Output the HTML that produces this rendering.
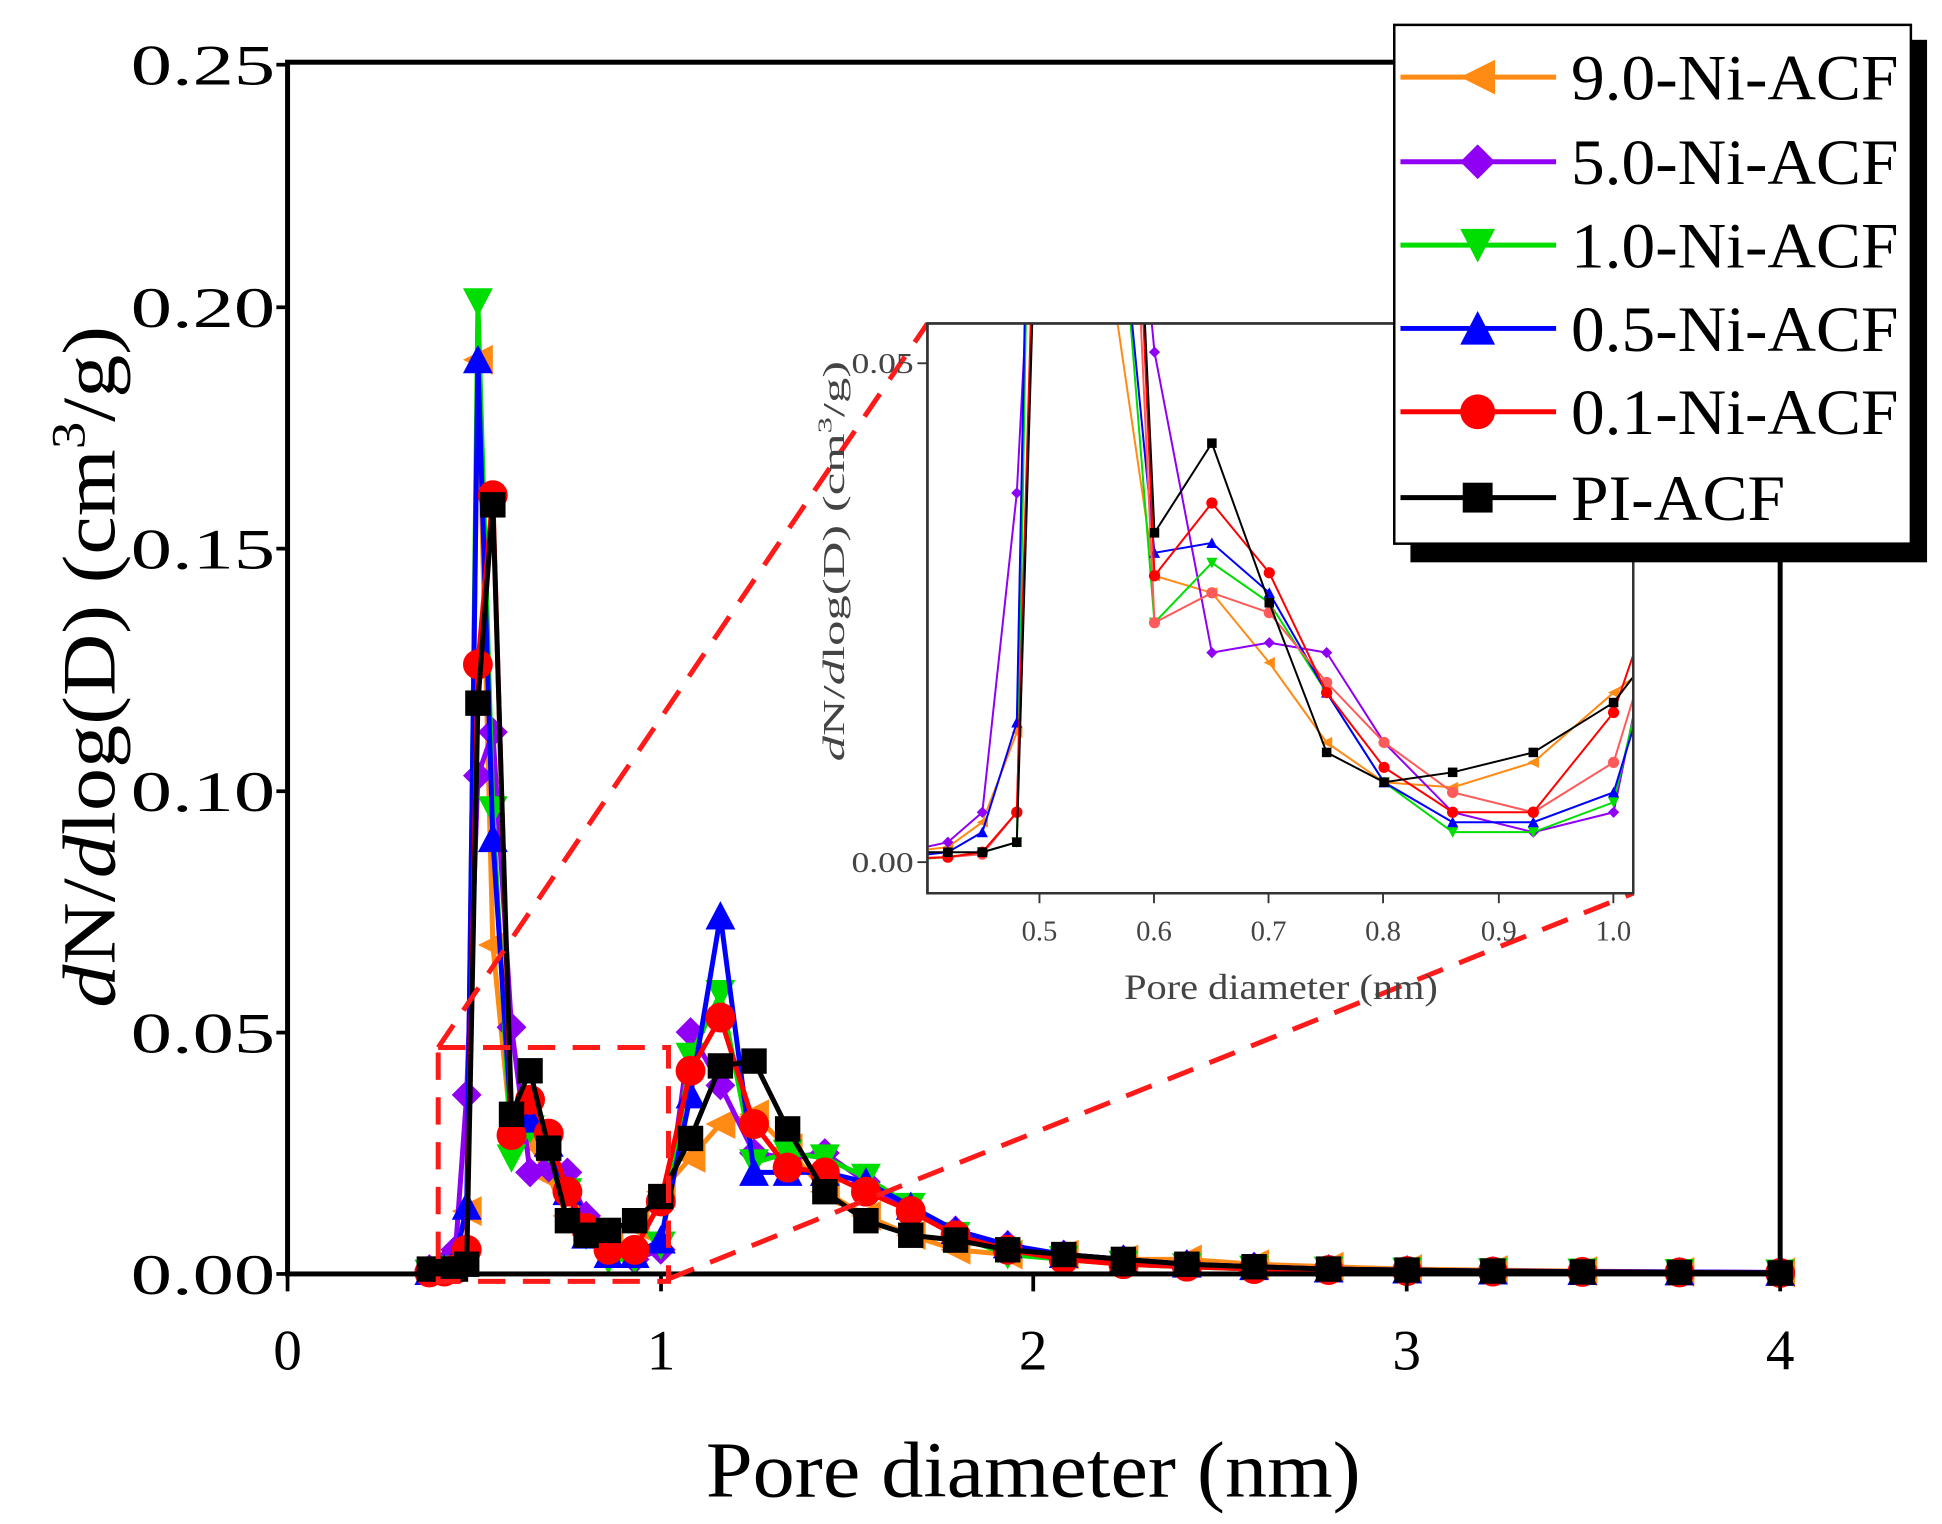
<!DOCTYPE html>
<html><head><meta charset="utf-8"><style>html,body{margin:0;padding:0;background:#fff}svg{display:block}</style></head>
<body>
<svg xmlns="http://www.w3.org/2000/svg" width="1942" height="1524" viewBox="0 0 1560 1225" preserveAspectRatio="none" font-family="'Liberation Serif', serif">
<rect width="1560" height="1225" fill="#fff"/>
<defs>
<clipPath id="ic"><rect x="745" y="260" width="567" height="458"/></clipPath>
<marker id="mO" viewBox="-1 -1 2 2" refX="0" refY="0" markerUnits="userSpaceOnUse" markerWidth="24" markerHeight="24" overflow="visible"><polygon points="-1,0 1,-1 1,1" fill="#ff8a14"/></marker>
<marker id="mP" viewBox="-1 -1 2 2" refX="0" refY="0" markerUnits="userSpaceOnUse" markerWidth="24" markerHeight="24" overflow="visible"><polygon points="0,-1 1,0 0,1 -1,0" fill="#8f00f5"/></marker>
<marker id="mG" viewBox="-1 -1 2 2" refX="0" refY="0" markerUnits="userSpaceOnUse" markerWidth="24" markerHeight="24" overflow="visible"><polygon points="-1,-0.9 1,-0.9 0,1" fill="#00dd00"/></marker>
<marker id="mB" viewBox="-1 -1 2 2" refX="0" refY="0" markerUnits="userSpaceOnUse" markerWidth="24" markerHeight="24" overflow="visible"><polygon points="0,-1 1,0.9 -1,0.9" fill="#0000ff"/></marker>
<marker id="mR" viewBox="-1 -1 2 2" refX="0" refY="0" markerUnits="userSpaceOnUse" markerWidth="24" markerHeight="24" overflow="visible"><circle r="1" fill="#ff0000"/></marker>
<marker id="mK" viewBox="-1 -1 2 2" refX="0" refY="0" markerUnits="userSpaceOnUse" markerWidth="24" markerHeight="24" overflow="visible"><rect x="-0.85" y="-0.85" width="1.7" height="1.7" fill="#000"/></marker>
<marker id="iO" viewBox="-1 -1 2 2" refX="0" refY="0" markerUnits="userSpaceOnUse" markerWidth="9" markerHeight="9" overflow="visible"><polygon points="-1,0 1,-1 1,1" fill="#ff8a14"/></marker>
<marker id="iP" viewBox="-1 -1 2 2" refX="0" refY="0" markerUnits="userSpaceOnUse" markerWidth="9" markerHeight="9" overflow="visible"><polygon points="0,-1 1,0 0,1 -1,0" fill="#8f00f5"/></marker>
<marker id="iG" viewBox="-1 -1 2 2" refX="0" refY="0" markerUnits="userSpaceOnUse" markerWidth="9" markerHeight="9" overflow="visible"><polygon points="-1,-0.9 1,-0.9 0,1" fill="#00dd00"/></marker>
<marker id="iB" viewBox="-1 -1 2 2" refX="0" refY="0" markerUnits="userSpaceOnUse" markerWidth="9" markerHeight="9" overflow="visible"><polygon points="0,-1 1,0.9 -1,0.9" fill="#0000ff"/></marker>
<marker id="iL" viewBox="-1 -1 2 2" refX="0" refY="0" markerUnits="userSpaceOnUse" markerWidth="9" markerHeight="9" overflow="visible"><circle r="1" fill="#ff5a5a"/></marker>
<marker id="iR" viewBox="-1 -1 2 2" refX="0" refY="0" markerUnits="userSpaceOnUse" markerWidth="9" markerHeight="9" overflow="visible"><circle r="1" fill="#ff0000"/></marker>
<marker id="iK" viewBox="-1 -1 2 2" refX="0" refY="0" markerUnits="userSpaceOnUse" markerWidth="9" markerHeight="9" overflow="visible"><rect x="-0.85" y="-0.85" width="1.7" height="1.7" fill="#000"/></marker>
</defs>

<g fill="none" stroke-width="4" stroke-linejoin="round">
<polyline stroke="#ff8a14" marker-start="url(#mO)" marker-mid="url(#mO)" marker-end="url(#mO)" points="344.9,1020.1 356.9,1018.2 365.9,1008.4 374.9,973.5 383.9,289.2 395.9,759.6 410.9,912.4 425.8,919 440.8,946.2 455.8,977.3 470.8,992.9 488.8,994.8 509.8,985.1 530.8,957.9 554.7,930.7 578.7,903.5 605.7,895.7 632.7,922.9 662.6,957.9 695.6,977.3 731.6,992.9 767.6,1004.6 809.5,1008.4 854.5,1008.4 902.4,1012.3 953.4,1012.3 1007.4,1016.2 1067.3,1018.2 1130.3,1020.1 1199.2,1020.9 1271.1,1021.7 1349.1,1022.4 1430,1022.8"/>
<polyline stroke="#8f00f5" marker-start="url(#mP)" marker-mid="url(#mP)" marker-end="url(#mP)" points="344.9,1020.1 356.9,1016.2 365.9,1004.6 374.9,880.1 383.9,623.5 395.9,588.5 410.9,825.7 425.8,942.4 440.8,938.5 455.8,942.4 470.8,977.3 488.8,1004.6 509.8,1012.3 530.8,1004.6 554.7,829.6 578.7,872.4 605.7,926.8 632.7,930.7 662.6,926.8 695.6,950.1 731.6,973.5 767.6,989 809.5,1000.7 854.5,1008.4 902.4,1012.3 953.4,1016.2 1007.4,1018.2 1067.3,1020.1 1130.3,1020.9 1199.2,1021.7 1271.1,1022.1 1349.1,1022.4 1430,1022.8"/>
<polyline stroke="#00dd00" marker-start="url(#mG)" marker-mid="url(#mG)" marker-end="url(#mG)" points="344.9,1023.2 356.9,1022.1 365.9,1020.1 374.9,1016.2 383.9,242.5 395.9,650.8 410.9,930.7 425.8,907.4 440.8,922.9 455.8,957.9 470.8,992.9 488.8,1012.3 509.8,1012.3 530.8,1000.7 554.7,849 578.7,798.5 605.7,934.6 632.7,926.8 662.6,930.7 695.6,946.2 731.6,969.6 767.6,992.9 809.5,1008.4 854.5,1012.3 902.4,1016.2 953.4,1018.2 1007.4,1020.1 1067.3,1020.9 1130.3,1021.7 1199.2,1022.1 1271.1,1022.4 1349.1,1022.8 1430,1023.2"/>
<polyline stroke="#0000ff" marker-start="url(#mB)" marker-mid="url(#mB)" marker-end="url(#mB)" points="344.9,1022.1 356.9,1020.1 365.9,1012.3 374.9,969.6 383.9,289.2 395.9,674.1 410.9,903.5 425.8,899.6 440.8,919 455.8,957.9 470.8,992.9 488.8,1008.4 509.8,1008.4 530.8,996.8 554.7,880.1 578.7,736.3 605.7,942.4 632.7,942.4 662.6,942.4 695.6,950.1 731.6,969.6 767.6,989 809.5,1000.7 854.5,1008.4 902.4,1012.3 953.4,1016.2 1007.4,1018.2 1067.3,1020.1 1130.3,1020.9 1199.2,1021.7 1271.1,1022.1 1349.1,1022.4 1430,1022.8"/>
<polyline stroke="#ff0000" marker-start="url(#mR)" marker-mid="url(#mR)" marker-end="url(#mR)" points="344.9,1022.8 356.9,1022.1 365.9,1020.1 374.9,1004.6 383.9,534.1 395.9,398 410.9,912.4 425.8,884 440.8,911.2 455.8,957.9 470.8,987.1 488.8,1004.6 509.8,1004.6 530.8,965.7 554.7,860.7 578.7,817.9 605.7,903.5 632.7,938.5 662.6,942.4 695.6,957.9 731.6,973.5 767.6,992.9 809.5,1004.6 854.5,1012.3 902.4,1016.2 953.4,1018.2 1007.4,1020.1 1067.3,1020.9 1130.3,1021.7 1199.2,1022.1 1271.1,1022.4 1349.1,1022.8 1430,1023.2"/>
<polyline stroke="#000" marker-start="url(#mK)" marker-mid="url(#mK)" marker-end="url(#mK)" points="344.9,1020.1 356.9,1020.1 365.9,1020.1 374.9,1016.2 383.9,565.2 395.9,405.8 410.9,895.7 425.8,860.7 440.8,922.9 455.8,981.2 470.8,992.9 488.8,989 509.8,981.2 530.8,961.8 554.7,915.1 578.7,856.8 605.7,852.9 632.7,907.4 662.6,957.9 695.6,981.2 731.6,992.9 767.6,996.8 809.5,1004.6 854.5,1008.4 902.4,1012.3 953.4,1016.2 1007.4,1018.2 1067.3,1020.1 1130.3,1020.9 1199.2,1021.7 1271.1,1022.4 1349.1,1022.8 1430,1023.2"/>
</g>

<rect x="231" y="50" width="1199" height="974" fill="none" stroke="#000" stroke-width="4"/>
<g stroke="#000" stroke-width="3">
<line x1="222" y1="1024" x2="231" y2="1024"/><line x1="222" y1="830" x2="231" y2="830"/><line x1="222" y1="636" x2="231" y2="636"/><line x1="222" y1="441" x2="231" y2="441"/><line x1="222" y1="247" x2="231" y2="247"/><line x1="222" y1="52" x2="231" y2="52"/>
<line x1="231" y1="1024" x2="231" y2="1038"/><line x1="531" y1="1024" x2="531" y2="1038"/><line x1="830" y1="1024" x2="830" y2="1038"/><line x1="1130" y1="1024" x2="1130" y2="1038"/><line x1="1430" y1="1024" x2="1430" y2="1038"/>
</g>
<g font-size="46">
<text x="105" y="1040" textLength="116" lengthAdjust="spacingAndGlyphs">0.00</text>
<text x="105" y="846" textLength="116" lengthAdjust="spacingAndGlyphs">0.05</text>
<text x="105" y="652" textLength="116" lengthAdjust="spacingAndGlyphs">0.10</text>
<text x="105" y="457" textLength="116" lengthAdjust="spacingAndGlyphs">0.15</text>
<text x="105" y="263" textLength="116" lengthAdjust="spacingAndGlyphs">0.20</text>
<text x="105" y="68" textLength="116" lengthAdjust="spacingAndGlyphs">0.25</text>
</g>
<g font-size="46" text-anchor="middle">
<text x="231" y="1101">0</text><text x="531" y="1101">1</text><text x="830" y="1101">2</text><text x="1130" y="1101">3</text><text x="1430" y="1101">4</text>
</g>
<text x="567" y="1203" font-size="64" textLength="526" lengthAdjust="spacingAndGlyphs">Pore diameter (nm)</text>
<text transform="translate(92,810) rotate(-90)" font-size="60" textLength="548" lengthAdjust="spacingAndGlyphs"><tspan font-style="italic">d</tspan>N/<tspan font-style="italic">d</tspan>log(D) (cm<tspan font-size="38" dy="-24">3</tspan><tspan dy="24">/g)</tspan></text>

<g stroke="#ff1a1a" stroke-width="4" stroke-dasharray="22,14" fill="none">
<rect x="352" y="842" width="185" height="188"/>
<line x1="352" y1="842" x2="745" y2="260"/>
<line x1="537" y1="1028" x2="1312" y2="718"/>
</g>

<rect x="745" y="260" width="567" height="458" fill="#fff" stroke="#333" stroke-width="2"/>
<g clip-path="url(#ic)" fill="none" stroke-width="1.6">
<polyline stroke="#ff8a14" marker-start="url(#iO)" marker-mid="url(#iO)" marker-end="url(#iO)" points="724.6,685 761.4,681 789.1,660.9 816.8,588.7 844.4,-823 881.3,147.6 927.4,462.8 973.5,476.5 1019.6,532.6 1065.7,596.8 1111.8,628.8 1166.9,632.9 1231.7,612.8 1296.2,556.7 1370,500.5"/>
<polyline stroke="#8f00f5" marker-start="url(#iP)" marker-mid="url(#iP)" marker-end="url(#iP)" points="724.6,685 761.4,677 789.1,652.9 816.8,396.3 844.4,-133 881.3,-205 927.4,283 973.5,524.6 1019.6,516.6 1065.7,524.6 1111.8,596.8 1166.9,652.9 1231.7,668.9 1296.2,652.9 1370,292"/>
<polyline stroke="#00dd00" marker-start="url(#iG)" marker-mid="url(#iG)" marker-end="url(#iG)" points="724.6,691.4 761.4,689 789.1,685 816.8,677 844.4,-919 881.3,-77 927.4,500.5 973.5,452.4 1019.6,484.5 1065.7,556.7 1111.8,628.8 1166.9,668.9 1231.7,668.9 1296.2,644.9 1370,332.1"/>
<polyline stroke="#0000ff" marker-start="url(#iB)" marker-mid="url(#iB)" marker-end="url(#iB)" points="724.6,689 761.4,685 789.1,668.9 816.8,580.7 844.4,-823 881.3,-29 927.4,444.4 973.5,436.4 1019.6,476.5 1065.7,556.7 1111.8,628.8 1166.9,660.9 1231.7,660.9 1296.2,636.9 1370,396.3"/>
<polyline stroke="#ff5a5a" marker-start="url(#iL)" marker-mid="url(#iL)" marker-end="url(#iL)" points="724.6,689.8 761.4,689 789.1,686.6 816.8,652.9 844.4,-269 881.3,-510 927.4,500.5 973.5,476.5 1019.6,492.5 1065.7,548.6 1111.8,596.8 1166.9,636.9 1231.7,652.9 1296.2,612.8 1370,372"/>
<polyline stroke="#ff0000" marker-start="url(#iR)" marker-mid="url(#iR)" marker-end="url(#iR)" points="724.6,690.6 761.4,689 789.1,685 816.8,652.9 844.4,-317 881.3,-598 927.4,462.8 973.5,404.3 1019.6,460.4 1065.7,556.7 1111.8,616.8 1166.9,652.9 1231.7,652.9 1296.2,572.7 1370,356.2"/>
<polyline stroke="#000" marker-start="url(#iK)" marker-mid="url(#iK)" marker-end="url(#iK)" points="724.6,685 761.4,685 789.1,685 816.8,677 844.4,-253 881.3,-582 927.4,428.3 973.5,356.2 1019.6,484.5 1065.7,604.8 1111.8,628.8 1166.9,620.8 1231.7,604.8 1296.2,564.7 1370,468.4"/>
</g>
<rect x="745" y="260" width="567" height="458" fill="none" stroke="#333" stroke-width="2"/>
<g stroke="#333" stroke-width="1.5">
<line x1="737" y1="693" x2="745" y2="693"/><line x1="737" y1="292" x2="745" y2="292"/>
<line x1="835" y1="718" x2="835" y2="726"/><line x1="927" y1="718" x2="927" y2="726"/><line x1="1019" y1="718" x2="1019" y2="726"/><line x1="1111" y1="718" x2="1111" y2="726"/><line x1="1204" y1="718" x2="1204" y2="726"/><line x1="1296" y1="718" x2="1296" y2="726"/>
</g>
<g font-size="23" fill="#444">
<text x="684" y="701" textLength="50" lengthAdjust="spacingAndGlyphs">0.00</text>
<text x="684" y="300" textLength="50" lengthAdjust="spacingAndGlyphs">0.05</text>
</g>
<g font-size="23" fill="#444" text-anchor="middle"><text x="835" y="756">0.5</text><text x="927" y="756">0.6</text><text x="1019" y="756">0.7</text><text x="1111" y="756">0.8</text><text x="1204" y="756">0.9</text><text x="1296" y="756">1.0</text></g>
<text x="903" y="803" font-size="29" fill="#444" textLength="252" lengthAdjust="spacingAndGlyphs">Pore diameter (nm)</text>
<text transform="translate(678,612) rotate(-90)" font-size="25" fill="#444" textLength="322" lengthAdjust="spacingAndGlyphs"><tspan font-style="italic">d</tspan>N/<tspan font-style="italic">d</tspan>log(D) (cm<tspan font-size="16" dy="-10">3</tspan><tspan dy="10">/g)</tspan></text>

<rect x="1133" y="32" width="415" height="420" fill="#000"/>
<rect x="1120" y="20" width="415" height="417" fill="#fff" stroke="#000" stroke-width="2"/>
<g stroke-width="4">
<line x1="1125" y1="62" x2="1250" y2="62" stroke="#ff8a14"/>
<line x1="1125" y1="130" x2="1250" y2="130" stroke="#8f00f5"/>
<line x1="1125" y1="197" x2="1250" y2="197" stroke="#00dd00"/>
<line x1="1125" y1="264" x2="1250" y2="264" stroke="#0000ff"/>
<line x1="1125" y1="331" x2="1250" y2="331" stroke="#ff0000"/>
<line x1="1125" y1="400" x2="1250" y2="400" stroke="#000"/>
</g>
<polygon points="1173,62 1201,48 1201,76" fill="#ff8a14"/>
<polygon points="1187,116 1201,130 1187,144 1173,130" fill="#8f00f5"/>
<polygon points="1173,184 1201,184 1187,211" fill="#00dd00"/>
<polygon points="1187,250 1201,277 1173,277" fill="#0000ff"/>
<circle cx="1187" cy="331" r="14" fill="#ff0000"/>
<rect x="1175" y="388" width="24" height="24" fill="#000"/>
<g font-size="52">
<text x="1262" y="80" textLength="263" lengthAdjust="spacingAndGlyphs">9.0-Ni-ACF</text>
<text x="1262" y="148" textLength="263" lengthAdjust="spacingAndGlyphs">5.0-Ni-ACF</text>
<text x="1262" y="215" textLength="263" lengthAdjust="spacingAndGlyphs">1.0-Ni-ACF</text>
<text x="1262" y="282" textLength="263" lengthAdjust="spacingAndGlyphs">0.5-Ni-ACF</text>
<text x="1262" y="349" textLength="263" lengthAdjust="spacingAndGlyphs">0.1-Ni-ACF</text>
<text x="1262" y="418" textLength="172" lengthAdjust="spacingAndGlyphs">PI-ACF</text>
</g>
</svg>
</body></html>
